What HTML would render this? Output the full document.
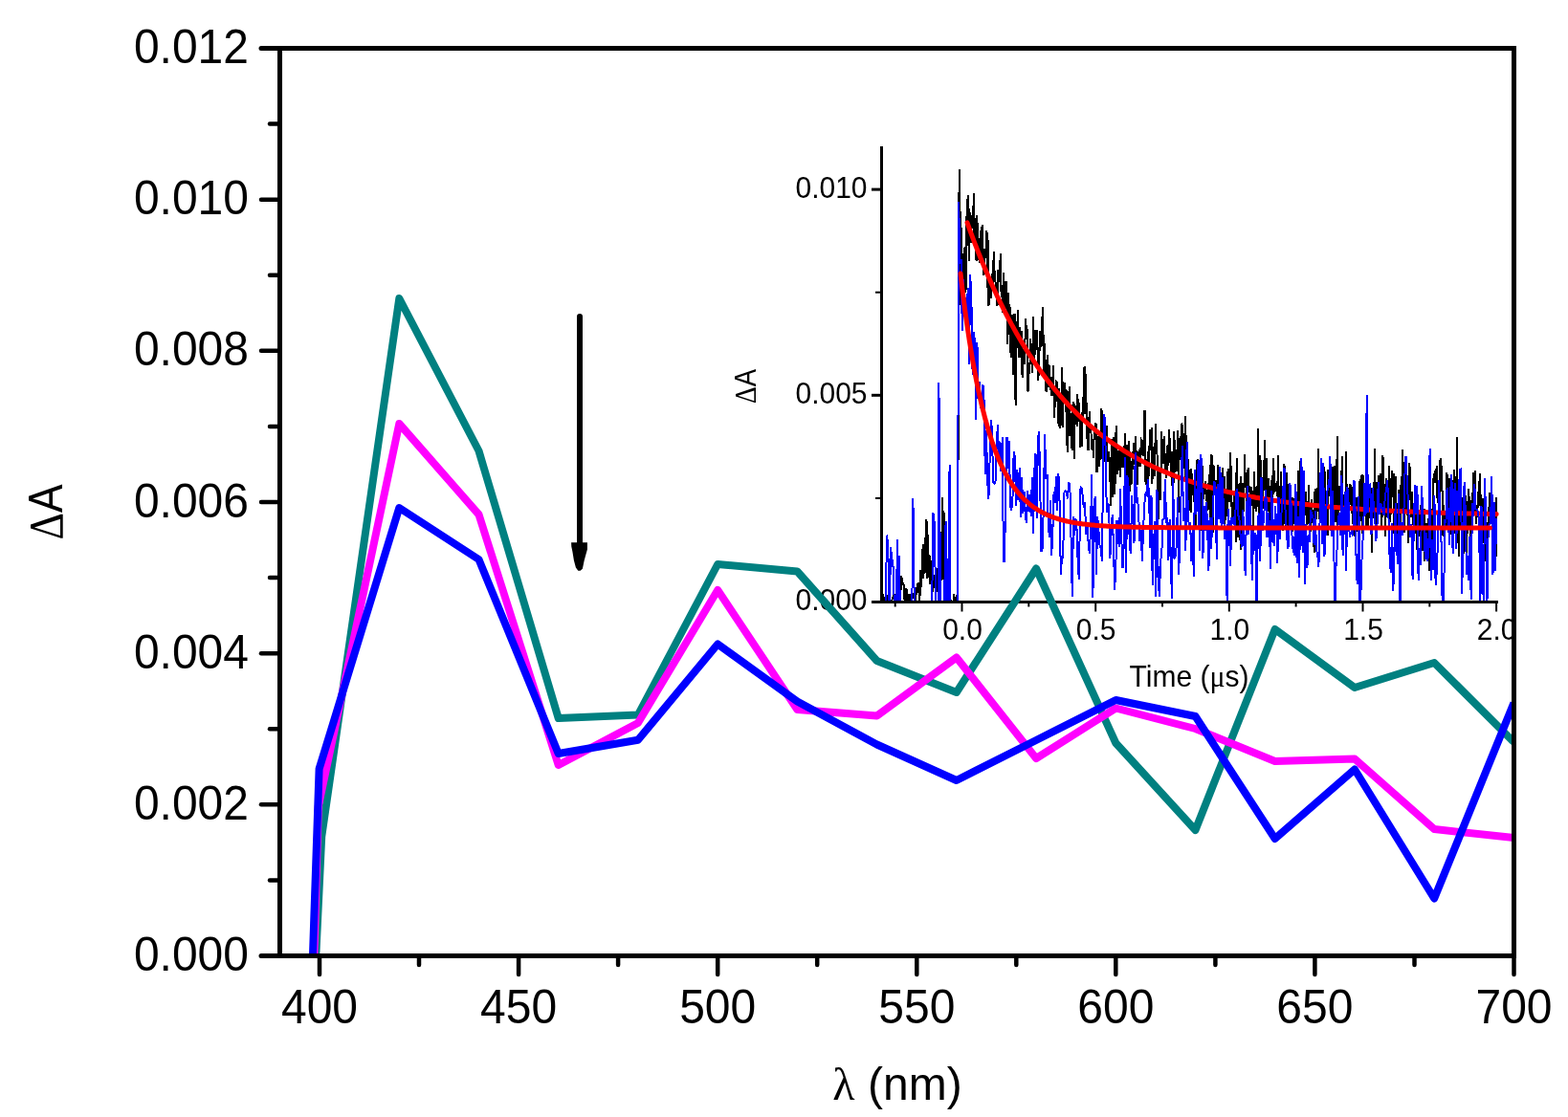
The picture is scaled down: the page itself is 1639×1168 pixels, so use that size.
<!DOCTYPE html>
<html><head><meta charset="utf-8"><title>Transient absorption spectra</title>
<style>html,body{margin:0;padding:0;background:#fff;}svg{display:block;}</style>
</head><body>
<svg width="1639" height="1168" viewBox="0 0 1639 1168">
<rect x="0" y="0" width="1639" height="1168" fill="#fff"/>
<defs><clipPath id="insclip"><rect x="0" y="0" width="1580" height="1168"/></clipPath><clipPath id="inplot"><rect x="922" y="140" width="660" height="489"/></clipPath><clipPath id="mainclip"><rect x="292" y="50" width="1291" height="950"/></clipPath></defs>
<g clip-path="url(#inplot)" shape-rendering="crispEdges">
<path d="M922.0 625.4L922.8 622.3L923.5 623.6L924.2 630.9L925.0 629.8L925.8 622.5L926.5 635.9L927.2 623.1L928.0 623.4L928.8 627.4L929.5 629.7L930.2 630.1L931.0 630.5L931.8 627.7L932.5 626.9L933.2 626.3L934.0 621.2L934.8 623.3L935.5 625.2L936.2 620.7L937.0 630.7L937.8 631.4L938.5 622.8L939.2 633.8L940.0 633.9L940.8 618.4L941.5 617.2L942.2 602.0L943.0 607.8L943.8 610.6L944.5 611.4L945.2 621.8L946.0 634.7L946.8 626.4L947.5 615.3L948.2 628.6L949.0 626.0L949.8 635.9L950.5 621.3L951.2 631.9L952.0 630.0L952.8 621.8L953.5 626.3L954.2 621.7L955.0 623.7L955.8 621.5L956.5 632.5L957.2 622.0L958.0 620.9L958.8 610.4L959.5 620.0L960.2 609.3L961.0 630.0L961.8 618.7L962.5 595.8L963.2 613.6L964.0 573.9L964.8 605.4L965.5 568.6L966.2 599.9L967.0 562.5L967.8 598.9L968.5 543.0L969.2 604.7L970.0 559.4L970.8 604.0L971.5 580.0L972.2 611.1L973.0 585.7L973.8 617.4L974.5 602.9L975.2 618.8L976.0 600.8L976.8 606.4L977.5 614.9L978.2 624.2L979.0 608.5L979.8 619.2L980.5 593.7L981.2 613.7L982.0 543.6L982.8 605.1L983.5 556.5L984.2 607.2L985.0 520.4L985.8 605.7L986.5 534.1L987.2 609.7L988.0 576.4L988.8 613.0L989.5 592.6L990.2 621.4L991.0 622.1L991.8 622.7L992.5 627.9L993.2 622.3L994.0 635.0L994.8 628.4L995.5 634.9L996.2 632.7L997.0 621.5L997.8 625.0L998.5 627.9L999.2 626.7L1000.0 622.6L1000.8 629.1L1001.5 625.8L1001.2 559.6L1002.0 361.7L1002.6 176.6L1003.2 318.6L1003.7 267.0L1004.3 221.3L1004.8 261.1L1005.4 283.5L1006.0 290.5L1006.5 295.2L1007.1 278.8L1007.7 258.6L1008.2 262.0L1008.8 259.1L1009.3 306.4L1009.9 295.8L1010.5 226.1L1011.0 231.9L1011.6 203.8L1012.2 229.6L1012.7 272.9L1013.3 217.7L1013.8 228.2L1014.4 235.5L1015.0 254.3L1015.5 238.4L1016.1 237.6L1016.7 218.6L1017.2 229.8L1017.8 202.0L1018.3 255.4L1018.9 229.4L1019.5 229.4L1020.0 267.1L1020.6 273.3L1021.1 224.6L1021.7 237.0L1022.3 257.7L1022.8 249.1L1023.4 272.2L1024.0 252.9L1024.5 275.1L1025.1 263.1L1025.6 236.6L1026.2 262.9L1026.8 235.4L1027.3 275.8L1027.9 262.6L1028.5 288.1L1029.0 260.0L1029.6 261.6L1030.1 264.9L1030.7 270.1L1031.3 241.4L1031.8 245.1L1032.4 301.0L1033.0 251.5L1033.5 320.2L1034.1 302.4L1034.6 296.4L1035.2 292.0L1035.8 311.9L1036.3 307.4L1036.9 285.8L1037.4 301.5L1038.0 295.9L1038.6 268.6L1039.1 263.5L1039.7 291.3L1040.3 292.0L1040.8 298.0L1041.4 308.9L1041.9 308.6L1042.5 320.4L1043.1 282.1L1043.6 292.3L1044.2 295.4L1044.8 286.6L1045.3 275.7L1045.9 264.7L1046.4 303.0L1047.0 310.8L1047.6 307.3L1048.1 327.2L1048.7 284.9L1049.3 300.0L1049.8 303.7L1050.4 324.3L1050.9 303.9L1051.5 293.8L1052.1 310.3L1052.6 325.3L1053.2 359.7L1053.7 306.0L1054.3 336.9L1054.9 350.0L1055.4 317.7L1056.0 335.1L1056.6 374.4L1057.1 345.3L1057.7 352.2L1058.2 329.5L1058.8 391.6L1059.4 364.7L1059.9 357.8L1060.5 327.8L1061.1 384.6L1061.6 424.2L1062.2 386.3L1062.7 352.1L1063.3 342.2L1063.9 324.0L1064.4 351.7L1065.0 374.1L1065.6 341.6L1066.1 366.5L1066.7 373.7L1067.2 370.0L1067.8 345.9L1068.4 390.8L1068.9 395.2L1069.5 367.8L1070.0 364.9L1070.6 381.3L1071.2 370.0L1071.7 345.7L1072.3 332.9L1072.9 353.0L1073.4 355.3L1074.0 344.0L1074.5 409.4L1075.1 407.1L1075.7 382.9L1076.2 383.8L1076.8 373.9L1077.4 354.0L1077.9 380.5L1078.5 359.4L1079.0 390.4L1079.6 373.3L1080.2 331.0L1080.7 375.5L1081.3 351.5L1081.9 344.9L1082.4 371.1L1083.0 346.6L1083.5 356.0L1084.1 344.9L1084.7 371.1L1085.2 398.1L1085.8 388.2L1086.3 378.3L1086.9 346.3L1087.5 363.1L1088.0 361.8L1088.6 357.7L1089.2 331.1L1089.7 362.1L1090.3 321.3L1090.8 390.2L1091.4 376.3L1092.0 358.9L1092.5 374.7L1093.1 408.6L1093.7 397.6L1094.2 410.0L1094.8 371.3L1095.3 380.0L1095.9 404.6L1096.5 381.3L1097.0 399.8L1097.6 395.4L1098.2 397.3L1098.7 413.8L1099.3 394.5L1099.8 398.9L1100.4 398.2L1101.0 381.6L1101.5 413.9L1102.1 436.7L1102.6 423.2L1103.2 405.3L1103.8 407.3L1104.3 399.1L1104.9 399.5L1105.5 419.6L1106.0 423.5L1106.6 445.6L1107.1 405.7L1107.7 432.8L1108.3 448.3L1108.8 439.3L1109.4 425.1L1110.0 383.8L1110.5 398.3L1111.1 446.6L1111.6 410.3L1112.2 400.5L1112.8 400.8L1113.3 400.9L1113.9 431.2L1114.5 407.2L1115.0 427.3L1115.6 472.6L1116.1 443.0L1116.7 436.4L1117.3 412.4L1117.8 403.6L1118.4 455.7L1118.9 434.1L1119.5 432.5L1120.1 462.9L1120.6 470.8L1121.2 426.0L1121.8 420.0L1122.3 433.0L1122.9 479.8L1123.4 421.7L1124.0 432.6L1124.6 444.3L1125.1 432.1L1125.7 445.8L1126.3 411.6L1126.8 425.2L1127.4 440.8L1127.9 421.0L1128.5 432.7L1129.1 468.0L1129.6 441.9L1130.2 443.6L1130.8 466.7L1131.3 440.2L1131.9 415.2L1132.4 436.3L1133.0 390.8L1133.6 382.8L1134.1 433.2L1134.7 415.5L1135.2 391.1L1135.8 448.8L1136.4 458.8L1136.9 452.7L1137.5 471.2L1138.1 462.8L1138.6 430.1L1139.2 448.2L1139.7 443.8L1140.3 444.7L1140.9 469.6L1141.4 458.8L1142.0 463.9L1142.6 472.6L1143.1 479.4L1143.7 450.7L1144.2 459.6L1144.8 452.3L1145.4 442.2L1145.9 447.5L1146.5 494.0L1147.0 480.7L1147.6 472.9L1148.2 465.8L1148.7 451.6L1149.3 487.8L1149.9 469.2L1150.4 458.4L1151.0 434.8L1151.5 427.4L1152.1 479.8L1152.7 461.0L1153.2 478.5L1153.8 448.7L1154.4 453.5L1154.9 472.9L1155.5 483.4L1156.0 458.0L1156.6 445.2L1157.2 483.1L1157.7 474.6L1158.3 472.9L1158.9 483.0L1159.4 471.6L1160.0 504.4L1160.5 497.4L1161.1 528.8L1161.7 482.6L1162.2 459.4L1162.8 519.7L1163.3 490.5L1163.9 456.7L1164.5 479.0L1165.0 517.3L1165.6 452.0L1166.2 506.2L1166.7 444.6L1167.3 488.3L1167.8 496.0L1168.4 481.3L1169.0 484.7L1169.5 471.3L1170.1 477.8L1170.7 498.9L1171.2 467.6L1171.8 477.0L1172.3 484.6L1172.9 485.9L1173.5 488.8L1174.0 483.5L1174.6 466.1L1175.2 469.2L1175.7 479.3L1176.3 453.4L1176.8 483.6L1177.4 473.3L1178.0 465.1L1178.5 512.1L1179.1 503.4L1179.6 461.0L1180.2 520.8L1180.8 472.4L1181.3 513.8L1181.9 482.5L1182.5 506.5L1183.0 488.1L1183.6 487.5L1184.1 491.0L1184.7 462.8L1185.3 467.4L1185.8 470.5L1186.4 486.3L1187.0 456.0L1187.5 470.9L1188.1 490.6L1188.6 507.3L1189.2 475.9L1189.8 471.8L1190.3 487.5L1190.9 476.7L1191.5 469.8L1192.0 487.5L1192.6 465.3L1193.1 459.9L1193.7 460.9L1194.3 474.6L1194.8 476.5L1195.4 471.4L1195.9 440.8L1196.5 428.7L1197.1 492.5L1197.6 506.9L1198.2 491.0L1198.8 497.2L1199.3 484.7L1199.9 472.5L1200.4 504.6L1201.0 470.8L1201.6 464.7L1202.1 448.9L1202.7 453.7L1203.3 470.7L1203.8 446.6L1204.4 506.0L1204.9 486.6L1205.5 491.7L1206.1 488.8L1206.6 462.7L1207.2 498.1L1207.8 443.2L1208.3 452.3L1208.9 472.8L1209.4 468.9L1210.0 502.0L1210.6 543.0L1211.1 491.6L1211.7 489.0L1212.2 493.0L1212.8 523.4L1213.4 506.0L1213.9 450.8L1214.5 473.8L1215.1 472.4L1215.6 485.0L1216.2 464.3L1216.7 455.8L1217.3 465.8L1217.9 491.5L1218.4 474.2L1219.0 500.3L1219.6 490.5L1220.1 466.1L1220.7 486.9L1221.2 483.6L1221.8 449.2L1222.4 479.2L1222.9 457.6L1223.5 483.6L1224.1 499.0L1224.6 471.7L1225.2 480.8L1225.7 523.4L1226.3 511.4L1226.9 492.2L1227.4 450.6L1228.0 494.3L1228.5 486.8L1229.1 475.0L1229.7 480.7L1230.2 492.9L1230.8 449.7L1231.4 454.4L1231.9 536.3L1232.5 459.0L1233.0 466.1L1233.6 456.1L1234.2 480.8L1234.7 468.3L1235.3 442.6L1235.9 447.1L1236.4 449.8L1237.0 468.4L1237.5 463.9L1238.1 459.6L1238.7 503.4L1239.2 434.6L1239.8 472.7L1240.4 475.9L1240.9 478.3L1241.5 478.6L1242.0 534.5L1242.6 491.4L1243.2 528.2L1243.7 522.0L1244.3 533.3L1244.8 535.8L1245.4 489.7L1246.0 517.2L1246.5 503.9L1247.1 501.9L1247.7 525.2L1248.2 516.0L1248.8 527.0L1249.3 510.6L1249.9 553.7L1250.5 519.1L1251.0 488.5L1251.6 479.7L1252.2 483.9L1252.7 501.7L1253.3 531.9L1253.8 493.5L1254.4 502.7L1255.0 516.3L1255.5 554.6L1256.1 517.8L1256.7 487.2L1257.2 496.9L1257.8 521.8L1258.3 506.0L1258.9 516.6L1259.5 514.1L1260.0 503.3L1260.6 515.1L1261.1 523.8L1261.7 512.0L1262.3 533.3L1262.8 532.3L1263.4 504.7L1264.0 518.8L1264.5 495.7L1265.1 542.7L1265.6 475.3L1266.2 511.1L1266.8 476.0L1267.3 561.2L1267.9 549.3L1268.5 486.4L1269.0 511.5L1269.6 510.9L1270.1 511.2L1270.7 504.4L1271.3 502.1L1271.8 534.5L1272.4 507.4L1273.0 485.9L1273.5 501.2L1274.1 522.3L1274.6 509.0L1275.2 491.0L1275.8 516.8L1276.3 517.4L1276.9 500.4L1277.4 497.1L1278.0 488.7L1278.6 523.2L1279.1 515.0L1279.7 498.1L1280.3 562.8L1280.8 518.2L1281.4 510.6L1281.9 522.3L1282.5 540.4L1283.1 508.3L1283.6 490.1L1284.2 518.8L1284.8 524.9L1285.3 517.8L1285.9 473.5L1286.4 481.8L1287.0 509.7L1287.6 534.1L1288.1 543.9L1288.7 534.3L1289.3 530.4L1289.8 517.6L1290.4 546.2L1290.9 522.6L1291.5 513.5L1292.1 567.2L1292.6 479.1L1293.2 519.9L1293.7 524.7L1294.3 561.7L1294.9 552.4L1295.4 506.8L1296.0 505.3L1296.6 575.0L1297.1 498.4L1297.7 507.6L1298.2 513.7L1298.8 552.0L1299.4 518.3L1299.9 534.7L1300.5 505.5L1301.1 474.6L1301.6 505.6L1302.2 493.6L1302.7 519.8L1303.3 537.4L1303.9 512.6L1304.4 491.3L1305.0 488.7L1305.6 515.4L1306.1 507.9L1306.7 518.3L1307.2 547.6L1307.8 510.7L1308.4 509.4L1308.9 525.8L1309.5 524.9L1310.0 562.9L1310.6 527.5L1311.2 493.1L1311.7 520.8L1312.3 511.0L1312.9 509.6L1313.4 535.1L1314.0 508.3L1314.5 528.9L1315.1 448.5L1315.7 502.9L1316.2 531.6L1316.8 541.9L1317.4 475.8L1317.9 497.5L1318.5 502.2L1319.0 536.3L1319.6 521.5L1320.2 532.0L1320.7 480.7L1321.3 513.3L1321.9 460.2L1322.4 494.4L1323.0 512.5L1323.5 479.3L1324.1 555.1L1324.7 526.7L1325.2 522.3L1325.8 501.1L1326.3 501.3L1326.9 518.6L1327.5 567.1L1328.0 539.8L1328.6 553.1L1329.2 502.4L1329.7 529.9L1330.3 510.6L1330.8 479.1L1331.4 517.4L1332.0 491.6L1332.5 514.7L1333.1 505.3L1333.7 508.7L1334.2 506.0L1334.8 509.3L1335.3 518.7L1335.9 476.5L1336.5 528.3L1337.0 508.5L1337.6 522.4L1338.2 559.7L1338.7 493.4L1339.3 509.9L1339.8 551.6L1340.4 535.7L1341.0 555.1L1341.5 508.9L1342.1 485.3L1342.6 487.1L1343.2 541.8L1343.8 554.0L1344.3 509.0L1344.9 494.2L1345.5 530.2L1346.0 506.2L1346.6 563.8L1347.1 541.1L1347.7 530.5L1348.3 553.2L1348.8 542.6L1349.4 523.9L1350.0 555.9L1350.5 557.8L1351.1 520.1L1351.6 528.0L1352.2 548.3L1352.8 520.6L1353.3 538.0L1353.9 506.1L1354.5 523.3L1355.0 535.3L1355.6 552.0L1356.1 528.7L1356.7 535.5L1357.3 491.6L1357.8 534.0L1358.4 560.4L1358.9 482.3L1359.5 568.8L1360.1 490.7L1360.6 548.7L1361.2 503.9L1361.8 535.5L1362.3 522.9L1362.9 527.7L1363.4 532.9L1364.0 520.2L1364.6 538.7L1365.1 514.5L1365.7 548.7L1366.3 542.5L1366.8 536.9L1367.4 528.6L1367.9 506.8L1368.5 547.6L1369.1 543.7L1369.6 555.6L1370.2 536.3L1370.8 522.1L1371.3 546.9L1371.9 533.0L1372.4 547.2L1373.0 536.0L1373.6 578.1L1374.1 520.7L1374.7 510.9L1375.2 545.4L1375.8 524.6L1376.4 543.3L1376.9 510.4L1377.5 514.8L1378.1 469.1L1378.6 529.2L1379.2 542.8L1379.7 534.7L1380.3 546.8L1380.9 512.4L1381.4 509.7L1382.0 487.5L1382.6 504.8L1383.1 524.8L1383.7 487.7L1384.2 501.6L1384.8 493.0L1385.4 536.0L1385.9 528.1L1386.5 521.1L1387.1 517.8L1387.6 560.0L1388.2 491.0L1388.7 519.1L1389.3 496.5L1389.9 501.0L1390.4 491.5L1391.0 515.5L1391.5 519.3L1392.1 547.6L1392.7 526.2L1393.2 487.9L1393.8 566.7L1394.4 530.9L1394.9 509.8L1395.5 486.7L1396.0 545.5L1396.6 540.1L1397.2 523.9L1397.7 456.1L1398.3 549.9L1398.9 533.5L1399.4 511.1L1400.0 533.8L1400.5 508.2L1401.1 514.5L1401.7 527.5L1402.2 509.1L1402.8 477.3L1403.4 514.9L1403.9 535.8L1404.5 546.3L1405.0 528.3L1405.6 514.7L1406.2 532.4L1406.7 524.1L1407.3 471.8L1407.8 551.1L1408.4 560.5L1409.0 527.7L1409.5 533.5L1410.1 518.5L1410.7 506.4L1411.2 522.1L1411.8 528.0L1412.3 506.9L1412.9 514.1L1413.5 537.2L1414.0 547.6L1414.6 520.6L1415.2 540.2L1415.7 561.0L1416.3 523.9L1416.8 543.3L1417.4 539.1L1418.0 520.2L1418.5 555.6L1419.1 545.1L1419.7 559.4L1420.2 568.6L1420.8 531.8L1421.3 503.1L1421.9 545.4L1422.5 500.8L1423.0 504.9L1423.6 496.3L1424.1 557.5L1424.7 544.4L1425.3 497.0L1425.8 538.5L1426.4 536.0L1427.0 523.6L1427.5 525.5L1428.1 552.2L1428.6 540.2L1429.2 521.1L1429.8 531.6L1430.3 551.1L1430.9 511.7L1431.5 513.6L1432.0 538.3L1432.6 542.3L1433.1 510.1L1433.7 578.0L1434.3 522.3L1434.8 535.6L1435.4 542.0L1435.9 504.1L1436.5 525.5L1437.1 469.0L1437.6 538.7L1438.2 525.6L1438.8 562.4L1439.3 504.4L1439.9 545.1L1440.4 530.9L1441.0 497.5L1441.6 502.2L1442.1 510.9L1442.7 495.1L1443.3 533.3L1443.8 539.6L1444.4 550.4L1444.9 511.0L1445.5 475.8L1446.1 525.9L1446.6 517.5L1447.2 526.7L1447.8 505.8L1448.3 560.9L1448.9 501.0L1449.4 501.3L1450.0 532.3L1450.6 541.8L1451.1 538.2L1451.7 507.6L1452.2 487.0L1452.8 536.3L1453.4 545.8L1453.9 512.0L1454.5 500.0L1455.1 491.6L1455.6 519.7L1456.2 496.9L1456.7 495.5L1457.3 557.5L1457.9 522.6L1458.4 503.5L1459.0 498.0L1459.6 530.7L1460.1 561.3L1460.7 537.0L1461.2 551.0L1461.8 541.9L1462.4 511.6L1462.9 540.7L1463.5 524.9L1464.1 551.4L1464.6 498.3L1465.2 528.8L1465.7 533.4L1466.3 470.5L1466.9 505.8L1467.4 491.7L1468.0 556.6L1468.5 490.6L1469.1 486.9L1469.7 533.4L1470.2 529.4L1470.8 539.4L1471.4 506.2L1471.9 567.9L1472.5 524.1L1473.0 484.5L1473.6 523.1L1474.2 487.6L1474.7 532.0L1475.3 541.0L1475.9 514.5L1476.4 537.5L1477.0 539.3L1477.5 549.1L1478.1 563.3L1478.7 548.1L1479.2 542.0L1479.8 532.6L1480.4 558.2L1480.9 548.8L1481.5 575.0L1482.0 564.0L1482.6 560.1L1483.2 559.8L1483.7 553.1L1484.3 541.7L1484.8 528.0L1485.4 536.2L1486.0 536.5L1486.5 575.9L1487.1 560.1L1487.7 544.3L1488.2 546.3L1488.8 532.1L1489.3 587.2L1489.9 546.9L1490.5 548.3L1491.0 561.8L1491.6 569.1L1492.2 547.5L1492.7 553.4L1493.3 541.7L1493.8 597.3L1494.4 570.0L1495.0 514.5L1495.5 542.3L1496.1 561.7L1496.7 547.6L1497.2 563.8L1497.8 504.1L1498.3 500.0L1498.9 505.1L1499.5 495.1L1500.0 505.0L1500.6 490.5L1501.1 501.5L1501.7 486.9L1502.3 520.5L1502.8 519.2L1503.4 524.8L1504.0 524.4L1504.5 545.7L1505.1 485.9L1505.6 479.5L1506.2 494.1L1506.8 487.2L1507.3 513.2L1507.9 513.8L1508.5 560.0L1509.0 528.0L1509.6 567.0L1510.1 546.4L1510.7 542.3L1511.3 538.6L1511.8 550.6L1512.4 494.5L1513.0 504.0L1513.5 535.7L1514.1 550.5L1514.6 529.4L1515.2 500.1L1515.8 559.3L1516.3 505.6L1516.9 528.9L1517.4 535.3L1518.0 502.1L1518.6 517.3L1519.1 531.1L1519.7 491.3L1520.3 558.2L1520.8 497.7L1521.4 546.8L1521.9 551.2L1522.5 499.0L1523.1 457.4L1523.6 512.1L1524.2 553.3L1524.8 581.6L1525.3 534.1L1525.9 536.4L1526.4 550.2L1527.0 541.8L1527.6 553.0L1528.1 520.1L1528.7 537.1L1529.3 534.9L1529.8 579.0L1530.4 526.8L1530.9 566.8L1531.5 518.0L1532.1 534.0L1532.6 578.3L1533.2 540.5L1533.7 558.4L1534.3 525.4L1534.9 522.9L1535.4 511.4L1536.0 552.6L1536.6 522.9L1537.1 563.1L1537.7 526.0L1538.2 538.0L1538.8 522.8L1539.4 520.9L1539.9 493.7L1540.5 522.7L1541.1 523.1L1541.6 492.2L1542.2 528.8L1542.7 537.7L1543.3 547.7L1543.9 527.6L1544.4 534.6L1545.0 513.6L1545.6 528.5L1546.1 502.9L1546.7 525.9L1547.2 495.0L1547.8 537.1L1548.4 522.5L1548.9 531.7L1549.5 568.9L1550.0 520.6L1550.6 551.1L1551.2 520.7L1551.7 587.4L1552.3 582.2L1552.9 585.4L1553.4 581.9L1554.0 547.2L1554.5 545.7L1555.1 561.8L1555.7 543.4L1556.2 546.5L1556.8 515.4L1557.4 524.5L1557.9 535.7L1558.5 528.4L1559.0 505.1L1559.6 525.8L1560.2 577.4L1560.7 552.7L1561.3 552.3L1561.9 528.2L1562.4 535.9L1563.0 527.9L1563.5 583.4L1564.1 520.4" fill="none" stroke="#000" stroke-width="2"/>
</g>
<path d="M1011.0 232.9L1012.9 238.1L1014.7 243.2L1016.6 248.1L1018.4 253.0L1020.3 257.9L1022.1 262.6L1024.0 267.3L1025.8 271.9L1027.7 276.4L1029.5 280.8L1031.4 285.1L1033.2 289.4L1035.0 293.6L1036.9 297.8L1038.7 301.8L1040.6 305.8L1042.4 309.8L1044.3 313.6L1046.1 317.4L1048.0 321.2L1049.8 324.9L1051.7 328.5L1053.5 332.0L1055.4 335.5L1057.2 338.9L1059.1 342.3L1060.9 345.6L1062.8 348.9L1064.6 352.1L1066.5 355.3L1068.3 358.4L1070.2 361.4L1072.0 364.4L1073.9 367.4L1075.7 370.3L1077.6 373.1L1079.4 375.9L1081.3 378.7L1083.1 381.4L1085.0 384.0L1086.8 386.6L1088.7 389.2L1090.5 391.7L1092.4 394.2L1094.2 396.7L1096.1 399.1L1097.9 401.4L1099.8 403.8L1101.6 406.0L1103.5 408.3L1105.3 410.5L1107.2 412.7L1109.0 414.8L1110.9 416.9L1112.7 419.0L1114.6 421.0L1116.4 423.0L1118.3 424.9L1120.1 426.9L1122.0 428.8L1123.8 430.6L1125.7 432.5L1127.5 434.3L1129.4 436.0L1131.2 437.8L1133.1 439.5L1134.9 441.2L1136.8 442.8L1138.6 444.5L1140.5 446.1L1142.3 447.6L1144.2 449.2L1146.0 450.7L1147.9 452.2L1149.7 453.7L1151.6 455.1L1153.4 456.5L1155.3 457.9L1157.1 459.3L1159.0 460.6L1160.8 462.0L1162.7 463.3L1164.5 464.5L1166.4 465.8L1168.2 467.0L1170.1 468.3L1171.9 469.5L1173.8 470.6L1175.6 471.8L1177.5 472.9L1179.3 474.1L1181.2 475.2L1183.0 476.2L1184.9 477.3L1186.7 478.3L1188.6 479.4L1190.4 480.4L1192.3 481.4L1194.1 482.4L1196.0 483.3L1197.8 484.3L1199.7 485.2L1201.5 486.1L1203.4 487.0L1205.2 487.9L1207.1 488.8L1208.9 489.6L1210.8 490.4L1212.6 491.3L1214.5 492.1L1216.3 492.9L1218.2 493.7L1220.0 494.4L1221.9 495.2L1223.7 495.9L1225.6 496.7L1227.4 497.4L1229.3 498.1L1231.1 498.8L1233.0 499.5L1234.8 500.1L1236.7 500.8L1238.5 501.5L1240.4 502.1L1242.2 502.7L1244.1 503.3L1245.9 503.9L1247.8 504.5L1249.6 505.1L1251.5 505.7L1253.3 506.3L1255.2 506.8L1257.0 507.4L1258.9 507.9L1260.7 508.5L1262.6 509.0L1264.4 509.5L1266.3 510.0L1268.1 510.5L1270.0 511.0L1271.8 511.4L1273.7 511.9L1275.5 512.4L1277.4 512.8L1279.2 513.3L1281.1 513.7L1282.9 514.2L1284.8 514.6L1286.6 515.0L1288.5 515.4L1290.3 515.8L1292.2 516.2L1294.0 516.6L1295.9 517.0L1297.7 517.4L1299.6 517.7L1301.4 518.1L1303.3 518.5L1305.1 518.8L1307.0 519.2L1308.8 519.5L1310.7 519.8L1312.5 520.2L1314.4 520.5L1316.2 520.8L1318.1 521.1L1319.9 521.4L1321.8 521.7L1323.6 522.0L1325.5 522.3L1327.3 522.6L1329.2 522.9L1331.0 523.2L1332.9 523.4L1334.7 523.7L1336.6 524.0L1338.4 524.2L1340.3 524.5L1342.1 524.7L1344.0 525.0L1345.8 525.2L1347.7 525.5L1349.5 525.7L1351.4 525.9L1353.2 526.2L1355.1 526.4L1356.9 526.6L1358.8 526.8L1360.6 527.0L1362.5 527.2L1364.3 527.4L1366.2 527.6L1368.0 527.8L1369.9 528.0L1371.7 528.2L1373.6 528.4L1375.4 528.6L1377.3 528.8L1379.1 529.0L1381.0 529.1L1382.8 529.3L1384.7 529.5L1386.5 529.7L1388.4 529.8L1390.2 530.0L1392.1 530.1L1393.9 530.3L1395.8 530.4L1397.6 530.6L1399.5 530.7L1401.3 530.9L1403.2 531.0L1405.0 531.2L1406.9 531.3L1408.7 531.5L1410.6 531.6L1412.4 531.7L1414.3 531.8L1416.1 532.0L1418.0 532.1L1419.8 532.2L1421.7 532.3L1423.5 532.5L1425.4 532.6L1427.2 532.7L1429.1 532.8L1430.9 532.9L1432.8 533.0L1434.6 533.1L1436.5 533.2L1438.3 533.3L1440.2 533.4L1442.0 533.5L1443.9 533.6L1445.7 533.7L1447.6 533.8L1449.4 533.9L1451.3 534.0L1453.1 534.1L1455.0 534.2L1456.8 534.3L1458.7 534.4L1460.5 534.5L1462.4 534.5L1464.2 534.6L1466.1 534.7L1467.9 534.8L1469.8 534.9L1471.6 534.9L1473.5 535.0L1475.3 535.1L1477.2 535.2L1479.0 535.2L1480.9 535.3L1482.7 535.4L1484.6 535.4L1486.4 535.5L1488.3 535.6L1490.1 535.6L1492.0 535.7L1493.8 535.8L1495.7 535.8L1497.5 535.9L1499.4 535.9L1501.2 536.0L1503.1 536.1L1504.9 536.1L1506.8 536.2L1508.6 536.2L1510.5 536.3L1512.3 536.3L1514.2 536.4L1516.0 536.4L1517.9 536.5L1519.7 536.5L1521.6 536.6L1523.4 536.6L1525.3 536.7L1527.1 536.7L1529.0 536.8L1530.8 536.8L1532.7 536.9L1534.5 536.9L1536.4 536.9L1538.2 537.0L1540.1 537.0L1541.9 537.1L1543.8 537.1L1545.6 537.1L1547.5 537.2L1549.3 537.2L1551.2 537.3L1553.0 537.3L1554.9 537.3L1556.7 537.4L1558.6 537.4L1560.4 537.4L1562.3 537.5L1564.1 537.5" fill="none" stroke="#ff0000" stroke-width="5" stroke-linecap="round"/>
<g clip-path="url(#inplot)" shape-rendering="crispEdges">
<path d="M922.0 648.2L923.3 644.0L924.6 650.4L925.9 649.0L926.8 559.6L928.2 568.2L929.8 644.9L931.0 572.5L932.6 585.5L934.0 596.2L935.0 646.4L936.3 648.4L938.2 563.9L938.9 646.8L939.6 581.2L941.5 655.4L942.8 650.5L944.1 629.3L945.4 649.3L946.7 652.6L948.0 640.7L949.3 631.5L950.6 656.1L951.9 645.4L953.2 649.0L954.4 520.9L955.8 637.2L957.1 643.8L958.4 642.9L959.7 650.0L961.0 639.6L962.3 648.2L963.6 644.8L964.9 653.1L966.2 654.0L967.5 632.1L968.8 647.9L970.1 641.1L971.4 643.9L972.7 647.4L974.0 647.9L975.4 536.0L977.2 551.0L977.9 644.9L979.2 643.4L980.5 633.4L981.4 400.4L983.1 640.3L984.4 648.4L985.7 655.5L987.0 635.4L988.6 544.6L989.6 644.8L990.9 638.9L992.6 486.5L993.5 636.4L994.8 635.6L996.1 647.5L997.4 630.5L998.7 654.3L1000.0 636.1L1001.3 639.3L1001.0 607.0L1002.2 211.0L1003.4 275.6L1004.6 270.8L1005.8 346.1L1007.0 292.0L1008.2 327.5L1009.4 311.0L1010.6 326.1L1011.8 300.8L1013.0 380.7L1014.2 287.3L1015.4 313.4L1016.6 391.9L1017.8 347.5L1019.0 356.4L1020.2 438.5L1021.4 358.3L1022.6 410.1L1023.8 399.5L1025.0 425.6L1026.2 427.8L1027.4 401.7L1028.6 418.8L1029.8 495.8L1031.0 449.6L1032.2 503.0L1033.4 521.7L1034.5 484.3L1035.7 439.1L1036.9 448.3L1038.1 504.0L1039.3 505.6L1040.5 503.8L1041.7 464.4L1042.9 444.2L1044.1 477.3L1045.3 462.3L1046.5 492.5L1047.7 457.4L1048.9 586.7L1050.1 587.1L1051.3 500.2L1052.5 457.0L1053.7 489.5L1054.9 461.3L1056.1 529.8L1057.3 533.7L1058.5 519.3L1059.7 472.4L1060.9 477.9L1062.1 528.7L1063.3 490.7L1064.5 523.1L1065.7 489.2L1066.9 541.0L1068.1 499.1L1069.3 536.6L1070.5 514.1L1071.7 538.9L1072.9 547.0L1074.1 513.2L1075.3 534.7L1076.5 516.7L1077.7 539.7L1078.9 499.2L1080.1 557.7L1081.3 492.9L1082.5 473.8L1083.7 542.4L1084.9 460.6L1086.1 450.7L1087.3 512.7L1088.5 577.2L1089.7 573.1L1090.9 526.1L1092.1 454.3L1093.3 501.3L1094.5 495.9L1095.7 542.5L1096.8 561.6L1098.0 523.1L1099.2 580.5L1100.4 554.8L1101.6 514.2L1102.8 526.0L1104.0 498.0L1105.2 534.4L1106.4 494.9L1107.6 525.5L1108.8 601.0L1110.0 582.6L1111.2 582.8L1112.4 515.1L1113.6 513.6L1114.8 514.2L1116.0 521.4L1117.2 503.8L1118.4 509.5L1119.6 566.6L1120.8 623.6L1122.0 539.9L1123.2 559.9L1124.4 541.9L1125.6 554.1L1126.8 592.2L1128.0 606.4L1129.2 512.5L1130.4 508.8L1131.6 517.4L1132.8 531.1L1134.0 525.1L1135.2 559.1L1136.4 548.3L1137.6 567.7L1138.8 578.9L1140.0 553.7L1141.2 495.6L1142.4 625.2L1143.6 525.2L1144.8 519.2L1146.0 600.5L1147.2 539.9L1148.4 554.9L1149.6 571.0L1150.8 573.1L1152.0 587.2L1153.2 469.0L1154.4 432.8L1155.6 468.9L1156.8 536.1L1158.0 526.9L1159.1 528.6L1160.3 583.8L1161.5 560.3L1162.7 538.0L1163.9 567.5L1165.1 617.2L1166.3 593.5L1167.5 543.9L1168.7 560.9L1169.9 572.2L1171.1 511.4L1172.3 563.4L1173.5 594.0L1174.7 570.8L1175.9 478.2L1177.1 599.0L1178.3 497.3L1179.5 507.2L1180.7 567.8L1181.9 579.0L1183.1 517.7L1184.3 543.8L1185.5 567.9L1186.7 473.1L1187.9 526.1L1189.1 520.0L1190.3 541.3L1191.5 566.3L1192.7 554.0L1193.9 587.2L1195.1 553.0L1196.3 527.6L1197.5 515.7L1198.7 517.2L1199.9 500.9L1201.1 519.4L1202.3 572.5L1203.5 518.0L1204.7 611.7L1205.9 571.5L1207.1 544.6L1208.3 624.0L1209.5 511.9L1210.7 605.8L1211.9 624.2L1213.1 586.5L1214.3 579.2L1215.5 543.6L1216.7 542.3L1217.9 501.1L1219.1 546.9L1220.3 541.1L1221.4 586.1L1222.6 543.0L1223.8 588.0L1225.0 626.4L1226.2 500.1L1227.4 584.4L1228.6 581.4L1229.8 570.8L1231.0 520.5L1232.2 601.3L1233.4 554.5L1234.6 516.1L1235.8 466.5L1237.0 545.0L1238.2 531.3L1239.4 576.1L1240.6 462.1L1241.8 541.5L1243.0 549.4L1244.2 548.0L1245.4 586.6L1246.6 554.4L1247.8 603.2L1249.0 490.7L1250.2 537.6L1251.4 528.3L1252.6 481.1L1253.8 576.0L1255.0 475.0L1256.2 485.2L1257.4 583.6L1258.6 529.4L1259.8 554.9L1261.0 525.4L1262.2 552.7L1263.4 597.3L1264.6 540.6L1265.8 573.8L1267.0 554.2L1268.2 523.7L1269.4 503.2L1270.6 512.0L1271.8 585.3L1273.0 505.6L1274.2 543.4L1275.4 488.2L1276.6 551.6L1277.8 499.5L1279.0 535.8L1280.2 564.2L1281.4 552.4L1282.6 628.4L1283.7 531.8L1284.9 549.7L1286.1 592.0L1287.3 541.1L1288.5 544.6L1289.7 540.3L1290.9 552.4L1292.1 515.2L1293.3 510.8L1294.5 539.4L1295.7 544.8L1296.9 564.9L1298.1 572.4L1299.3 533.4L1300.5 571.1L1301.7 601.8L1302.9 539.7L1304.1 508.3L1305.3 558.5L1306.5 520.3L1307.7 554.3L1308.9 607.0L1310.1 555.1L1311.3 575.9L1312.5 557.0L1313.7 641.4L1314.9 542.5L1316.1 536.6L1317.3 586.6L1318.5 499.4L1319.7 555.2L1320.9 542.5L1322.1 526.0L1323.3 512.1L1324.5 562.0L1325.7 535.9L1326.9 547.1L1328.1 594.7L1329.3 513.5L1330.5 549.2L1331.7 571.1L1332.9 529.3L1334.1 543.6L1335.3 589.0L1336.5 519.9L1337.7 563.6L1338.9 546.9L1340.1 526.0L1341.3 512.6L1342.5 489.1L1343.7 540.1L1344.9 553.5L1346.0 573.8L1347.2 569.3L1348.4 505.0L1349.6 527.4L1350.8 571.0L1352.0 575.9L1353.2 581.1L1354.4 506.2L1355.6 588.7L1356.8 539.6L1358.0 603.7L1359.2 539.6L1360.4 479.3L1361.6 578.4L1362.8 492.5L1364.0 610.8L1365.2 548.4L1366.4 594.3L1367.6 559.0L1368.8 566.7L1370.0 532.7L1371.2 539.4L1372.4 539.3L1373.6 569.7L1374.8 534.5L1376.0 575.4L1377.2 578.9L1378.4 593.0L1379.6 543.7L1380.8 478.6L1382.0 569.1L1383.2 483.9L1384.4 582.4L1385.6 557.9L1386.8 519.4L1388.0 508.4L1389.2 509.0L1390.4 477.2L1391.6 560.8L1392.8 513.0L1394.0 546.7L1395.2 641.4L1396.4 594.2L1397.6 573.4L1398.8 542.0L1400.0 536.3L1401.2 560.2L1402.4 497.4L1403.6 580.7L1404.8 552.5L1406.0 514.5L1407.2 596.9L1408.3 508.6L1409.5 524.9L1410.7 561.7L1411.9 557.9L1413.1 554.6L1414.3 560.4L1415.5 502.2L1416.7 537.1L1417.9 601.8L1419.1 611.1L1420.3 519.1L1421.5 641.4L1422.7 613.0L1423.9 571.6L1425.1 558.6L1426.3 505.2L1427.5 538.6L1428.7 413.1L1429.9 535.5L1431.1 508.0L1432.3 506.6L1433.5 559.2L1434.7 510.4L1435.9 530.9L1437.1 539.0L1438.3 566.1L1439.5 548.9L1440.7 504.2L1441.9 538.4L1443.1 526.1L1444.3 530.0L1445.5 533.7L1446.7 538.8L1447.9 517.5L1449.1 513.2L1450.3 502.4L1451.5 542.4L1452.7 586.8L1453.9 599.1L1455.1 546.8L1456.3 618.4L1457.5 578.4L1458.7 526.1L1459.9 572.3L1461.1 589.6L1462.3 515.6L1463.5 641.4L1464.7 546.1L1465.9 560.1L1467.1 547.4L1468.3 498.5L1469.5 477.0L1470.6 498.1L1471.8 523.6L1473.0 547.4L1474.2 562.0L1475.4 548.4L1476.6 605.9L1477.8 552.8L1479.0 507.2L1480.2 537.4L1481.4 508.4L1482.6 607.3L1483.8 573.0L1485.0 591.4L1486.2 507.9L1487.4 552.2L1488.6 552.4L1489.8 585.1L1491.0 556.6L1492.2 587.3L1493.4 573.5L1494.6 469.1L1495.8 606.6L1497.0 564.1L1498.2 595.9L1499.4 518.0L1500.6 611.9L1501.8 597.4L1503.0 565.3L1504.2 502.4L1505.4 548.5L1506.6 568.0L1507.8 639.8L1509.0 641.4L1510.2 543.2L1511.4 547.0L1512.6 509.7L1513.8 538.4L1515.0 570.3L1516.2 514.6L1517.4 495.6L1518.6 579.4L1519.8 519.2L1521.0 505.3L1522.2 574.2L1523.4 512.6L1524.6 534.2L1525.8 490.6L1527.0 490.5L1528.2 620.8L1529.4 560.7L1530.6 504.1L1531.8 535.4L1532.9 600.7L1534.1 581.4L1535.3 606.9L1536.5 560.7L1537.7 627.1L1538.9 525.8L1540.1 539.6L1541.3 505.7L1542.5 532.4L1543.7 532.7L1544.9 534.7L1546.1 544.7L1547.3 641.4L1548.5 529.1L1549.7 582.5L1550.9 641.4L1552.1 500.0L1553.3 556.1L1554.5 627.9L1555.7 551.4L1556.9 547.9L1558.1 546.6L1559.3 498.3L1560.5 600.9L1561.7 525.3L1562.9 596.8L1564.1 542.1" fill="none" stroke="#0000ff" stroke-width="2"/>
</g>
<path d="M1004.0 285.9L1005.8 301.6L1007.7 316.4L1009.5 330.3L1011.4 343.3L1013.2 355.6L1015.1 367.2L1016.9 378.1L1018.8 388.4L1020.6 398.0L1022.5 407.1L1024.4 415.6L1026.2 423.7L1028.1 431.2L1029.9 438.3L1031.8 445.0L1033.6 451.3L1035.5 457.3L1037.3 462.9L1039.2 468.1L1041.0 473.0L1042.9 477.7L1044.7 482.1L1046.6 486.2L1048.4 490.1L1050.3 493.7L1052.1 497.1L1054.0 500.4L1055.8 503.4L1057.7 506.3L1059.5 509.0L1061.4 511.5L1063.2 513.9L1065.1 516.1L1066.9 518.2L1068.8 520.2L1070.6 522.1L1072.5 523.8L1074.3 525.5L1076.2 527.1L1078.0 528.5L1079.9 529.9L1081.7 531.2L1083.6 532.4L1085.4 533.6L1087.3 534.6L1089.1 535.7L1091.0 536.6L1092.8 537.5L1094.7 538.4L1096.5 539.2L1098.4 539.9L1100.2 540.6L1102.1 541.3L1103.9 541.9L1105.8 542.5L1107.6 543.1L1109.5 543.6L1111.3 544.1L1113.2 544.5L1115.0 545.0L1116.9 545.4L1118.7 545.8L1120.6 546.1L1122.4 546.5L1124.3 546.8L1126.1 547.1L1128.0 547.4L1129.8 547.6L1131.7 547.9L1133.6 548.1L1135.4 548.3L1137.3 548.5L1139.1 548.7L1141.0 548.9L1142.8 549.1L1144.7 549.3L1146.5 549.4L1148.4 549.6L1150.2 549.7L1152.1 549.8L1153.9 550.0L1155.8 550.1L1157.6 550.2L1159.5 550.3L1161.3 550.4L1163.2 550.5L1165.0 550.5L1166.9 550.6L1168.7 550.7L1170.6 550.8L1172.4 550.8L1174.3 550.9L1176.1 551.0L1178.0 551.0L1179.8 551.1L1181.7 551.1L1183.5 551.2L1185.4 551.2L1187.2 551.2L1189.1 551.3L1190.9 551.3L1192.8 551.3L1194.6 551.4L1196.5 551.4L1198.3 551.4L1200.2 551.5L1202.0 551.5L1203.9 551.5L1205.7 551.5L1207.6 551.6L1209.4 551.6L1211.3 551.6L1213.1 551.6L1215.0 551.6L1216.8 551.6L1218.7 551.7L1220.5 551.7L1222.4 551.7L1224.2 551.7L1226.1 551.7L1227.9 551.7L1229.8 551.7L1231.6 551.7L1233.5 551.7L1235.3 551.8L1237.2 551.8L1239.1 551.8L1240.9 551.8L1242.8 551.8L1244.6 551.8L1246.5 551.8L1248.3 551.8L1250.2 551.8L1252.0 551.8L1253.9 551.8L1255.7 551.8L1257.6 551.8L1259.4 551.8L1261.3 551.8L1263.1 551.8L1265.0 551.8L1266.8 551.8L1268.7 551.8L1270.5 551.8L1272.4 551.8L1274.2 551.9L1276.1 551.9L1277.9 551.9L1279.8 551.9L1281.6 551.9L1283.5 551.9L1285.3 551.9L1287.2 551.9L1289.0 551.9L1290.9 551.9L1292.7 551.9L1294.6 551.9L1296.4 551.9L1298.3 551.9L1300.1 551.9L1302.0 551.9L1303.8 551.9L1305.7 551.9L1307.5 551.9L1309.4 551.9L1311.2 551.9L1313.1 551.9L1314.9 551.9L1316.8 551.9L1318.6 551.9L1320.5 551.9L1322.3 551.9L1324.2 551.9L1326.0 551.9L1327.9 551.9L1329.7 551.9L1331.6 551.9L1333.4 551.9L1335.3 551.9L1337.1 551.9L1339.0 551.9L1340.8 551.9L1342.7 551.9L1344.5 551.9L1346.4 551.9L1348.3 551.9L1350.1 551.9L1352.0 551.9L1353.8 551.9L1355.7 551.9L1357.5 551.9L1359.4 551.9L1361.2 551.9L1363.1 551.9L1364.9 551.9L1366.8 551.9L1368.6 551.9L1370.5 551.9L1372.3 551.9L1374.2 551.9L1376.0 551.9L1377.9 551.9L1379.7 551.9L1381.6 551.9L1383.4 551.9L1385.3 551.9L1387.1 551.9L1389.0 551.9L1390.8 551.9L1392.7 551.9L1394.5 551.9L1396.4 551.9L1398.2 551.9L1400.1 551.9L1401.9 551.9L1403.8 551.9L1405.6 551.9L1407.5 551.9L1409.3 551.9L1411.2 551.9L1413.0 551.9L1414.9 551.9L1416.7 551.9L1418.6 551.9L1420.4 551.9L1422.3 551.9L1424.1 551.9L1426.0 551.9L1427.8 551.9L1429.7 551.9L1431.5 551.9L1433.4 551.9L1435.2 551.9L1437.1 551.9L1438.9 551.9L1440.8 551.9L1442.6 551.9L1444.5 551.9L1446.3 551.9L1448.2 551.9L1450.0 551.9L1451.9 551.9L1453.7 551.9L1455.6 551.9L1457.5 551.9L1459.3 551.9L1461.2 551.9L1463.0 551.9L1464.9 551.9L1466.7 551.9L1468.6 551.9L1470.4 551.9L1472.3 551.9L1474.1 551.9L1476.0 551.9L1477.8 551.9L1479.7 551.9L1481.5 551.9L1483.4 551.9L1485.2 551.9L1487.1 551.9L1488.9 551.9L1490.8 551.9L1492.6 551.9L1494.5 551.9L1496.3 551.9L1498.2 551.9L1500.0 551.9L1501.9 551.9L1503.7 551.9L1505.6 551.9L1507.4 551.9L1509.3 551.9L1511.1 551.9L1513.0 551.9L1514.8 551.9L1516.7 551.9L1518.5 551.9L1520.4 551.9L1522.2 551.9L1524.1 551.9L1525.9 551.9L1527.8 551.9L1529.6 551.9L1531.5 551.9L1533.3 551.9L1535.2 551.9L1537.0 551.9L1538.9 551.9L1540.7 551.9L1542.6 551.9L1544.4 551.9L1546.3 551.9L1548.1 551.9L1550.0 551.9L1551.8 551.9L1553.7 551.9L1555.5 551.9L1557.4 551.9" fill="none" stroke="#ff0000" stroke-width="5" stroke-linecap="round"/>
<g stroke="#000" fill="none">
<line x1="921.5" y1="153" x2="921.5" y2="631" stroke-width="3"/>
<line x1="911" y1="629.5" x2="1566" y2="629.5" stroke-width="3"/>
<line x1="911" y1="413.3" x2="921" y2="413.3" stroke-width="3"/>
<line x1="911" y1="198.1" x2="921" y2="198.1" stroke-width="3"/>
<line x1="915" y1="520.9" x2="921" y2="520.9" stroke-width="2"/>
<line x1="915" y1="305.7" x2="921" y2="305.7" stroke-width="2"/>
<line x1="1005.5" y1="630" x2="1005.5" y2="639.5" stroke-width="2"/>
<line x1="1145.2" y1="630" x2="1145.2" y2="639.5" stroke-width="2"/>
<line x1="1284.8" y1="630" x2="1284.8" y2="639.5" stroke-width="2"/>
<line x1="1424.5" y1="630" x2="1424.5" y2="639.5" stroke-width="2"/>
<line x1="1564.1" y1="630" x2="1564.1" y2="639.5" stroke-width="2"/>
<line x1="935.7" y1="630" x2="935.7" y2="634.5" stroke-width="2"/>
<line x1="1075.3" y1="630" x2="1075.3" y2="634.5" stroke-width="2"/>
<line x1="1215.0" y1="630" x2="1215.0" y2="634.5" stroke-width="2"/>
<line x1="1354.6" y1="630" x2="1354.6" y2="634.5" stroke-width="2"/>
<line x1="1494.3" y1="630" x2="1494.3" y2="634.5" stroke-width="2"/>
</g>
<g font-family='"Liberation Sans", Arial, sans-serif' font-size="30" fill="#000" clip-path="url(#insclip)">
<text transform="translate(906.5,637.5) scale(1,1.07)" text-anchor="end">0.000</text>
<text transform="translate(906.5,422.3) scale(1,1.07)" text-anchor="end">0.005</text>
<text transform="translate(906.5,207.1) scale(1,1.07)" text-anchor="end">0.010</text>
<text transform="translate(1006.0,668.5) scale(1,1.07)" text-anchor="middle">0.0</text>
<text transform="translate(1145.7,668.5) scale(1,1.07)" text-anchor="middle">0.5</text>
<text transform="translate(1285.3,668.5) scale(1,1.07)" text-anchor="middle">1.0</text>
<text transform="translate(1425.0,668.5) scale(1,1.07)" text-anchor="middle">1.5</text>
<text transform="translate(1564.6,668.5) scale(1,1.07)" text-anchor="middle">2.0</text>
<text transform="translate(1243,718) scale(1,1.05)" text-anchor="middle">Time (<tspan font-family='"Liberation Serif", "Times New Roman", serif'>μ</tspan>s)</text>
<text transform="translate(790,404) rotate(-90) scale(0.92,1.07)" text-anchor="middle"><tspan font-family='"Liberation Serif", "Times New Roman", serif'>Δ</tspan>A</text>
</g>
<g clip-path="url(#mainclip)" fill="none" stroke-width="8" stroke-linejoin="round">
<polyline points="330.2,1001.0 336.2,875.0 417.3,312.0 500.5,471.5 583.7,751.0 666.9,747.5 750.2,590.0 833.4,597.5 916.6,691.0 999.8,724.0 1083.1,594.5 1166.3,777.0 1249.5,868.0 1332.7,658.0 1416.0,719.0 1499.2,693.0 1582.4,776.0" stroke="#008080"/>
<polyline points="328.4,1001.0 332.8,843.0 417.3,443.0 500.5,538.0 583.7,800.0 666.9,756.0 750.2,617.0 833.4,742.0 916.6,748.5 999.8,687.5 1083.1,793.0 1166.3,740.5 1249.5,762.0 1332.7,796.0 1416.0,793.5 1499.2,867.0 1582.4,876.0" stroke="#ff00ff"/>
<polyline points="326.9,1001.0 333.6,804.0 417.3,531.0 500.5,585.0 583.7,788.0 666.9,773.8 750.2,673.5 833.4,733.5 916.6,778.5 999.8,816.0 1083.1,774.0 1166.3,732.0 1249.5,749.0 1332.7,877.0 1416.0,804.5 1499.2,939.5 1582.4,735.0" stroke="#0000ff"/>
</g>
<line x1="606" y1="331" x2="606" y2="570" stroke="#000" stroke-width="6" stroke-linecap="round"/>
<polygon points="597.1,567.2 597.3,571.6 598.4,576.7 599.9,585.9 601.9,593.6 604.3,596.8 606.6,596.8 608.9,594.7 610.7,585.9 612.7,578.8 613.9,574.6 613.9,567.2" fill="#000"/>
<g stroke="#000" fill="none" stroke-width="5">
<line x1="292.5" y1="50.5" x2="292.5" y2="999.5"/>
<line x1="1582.5" y1="50.5" x2="1582.5" y2="999.5"/>
<line x1="273" y1="50.5" x2="1585" y2="50.5" stroke-linecap="butt"/>
<line x1="273" y1="999.5" x2="1585" y2="999.5"/>
</g>
<g stroke="#000" stroke-width="4.5" stroke-linecap="round">
<line x1="273" y1="50.5" x2="280" y2="50.5" stroke-width="5"/>
<line x1="273" y1="999.5" x2="280" y2="999.5" stroke-width="5"/>
<line x1="273" y1="841.3" x2="291" y2="841.3"/>
<line x1="273" y1="683.2" x2="291" y2="683.2"/>
<line x1="273" y1="525.0" x2="291" y2="525.0"/>
<line x1="273" y1="366.8" x2="291" y2="366.8"/>
<line x1="273" y1="208.7" x2="291" y2="208.7"/>
<line x1="282" y1="920.4" x2="291" y2="920.4"/>
<line x1="282" y1="762.3" x2="291" y2="762.3"/>
<line x1="282" y1="604.1" x2="291" y2="604.1"/>
<line x1="282" y1="445.9" x2="291" y2="445.9"/>
<line x1="282" y1="287.8" x2="291" y2="287.8"/>
<line x1="282" y1="129.6" x2="291" y2="129.6"/>
<line x1="334.0" y1="1001" x2="334.0" y2="1019"/>
<line x1="542.1" y1="1001" x2="542.1" y2="1019"/>
<line x1="750.2" y1="1001" x2="750.2" y2="1019"/>
<line x1="958.3" y1="1001" x2="958.3" y2="1019"/>
<line x1="1166.3" y1="1001" x2="1166.3" y2="1019"/>
<line x1="1374.4" y1="1001" x2="1374.4" y2="1019"/>
<line x1="1582.5" y1="1001" x2="1582.5" y2="1019"/>
<line x1="438.0" y1="1001" x2="438.0" y2="1009"/>
<line x1="646.1" y1="1001" x2="646.1" y2="1009"/>
<line x1="854.2" y1="1001" x2="854.2" y2="1009"/>
<line x1="1062.3" y1="1001" x2="1062.3" y2="1009"/>
<line x1="1270.4" y1="1001" x2="1270.4" y2="1009"/>
<line x1="1478.5" y1="1001" x2="1478.5" y2="1009"/>
</g>
<g font-family='"Liberation Sans", Arial, sans-serif' font-size="48" fill="#000">
<text transform="translate(260,1015.0) scale(1,1.035)" text-anchor="end">0.000</text>
<text transform="translate(260,856.8) scale(1,1.035)" text-anchor="end">0.002</text>
<text transform="translate(260,698.7) scale(1,1.035)" text-anchor="end">0.004</text>
<text transform="translate(260,540.5) scale(1,1.035)" text-anchor="end">0.006</text>
<text transform="translate(260,382.3) scale(1,1.035)" text-anchor="end">0.008</text>
<text transform="translate(260,224.2) scale(1,1.035)" text-anchor="end">0.010</text>
<text transform="translate(260,66.0) scale(1,1.035)" text-anchor="end">0.012</text>
<text transform="translate(334.0,1069.8) scale(1,1.03)" text-anchor="middle">400</text>
<text transform="translate(542.1,1069.8) scale(1,1.03)" text-anchor="middle">450</text>
<text transform="translate(750.2,1069.8) scale(1,1.03)" text-anchor="middle">500</text>
<text transform="translate(958.3,1069.8) scale(1,1.03)" text-anchor="middle">550</text>
<text transform="translate(1166.3,1069.8) scale(1,1.03)" text-anchor="middle">600</text>
<text transform="translate(1374.4,1069.8) scale(1,1.03)" text-anchor="middle">650</text>
<text transform="translate(1582.5,1069.8) scale(1,1.03)" text-anchor="middle">700</text>
<text x="938" y="1150" text-anchor="middle"><tspan font-family='"Liberation Serif", "Times New Roman", serif'>λ</tspan> (nm)</text>
<text transform="translate(65,535.5) rotate(-90) scale(0.92,1.04)" text-anchor="middle"><tspan font-family='"Liberation Serif", "Times New Roman", serif'>Δ</tspan>A</text>
</g>
</svg>
</body></html>
